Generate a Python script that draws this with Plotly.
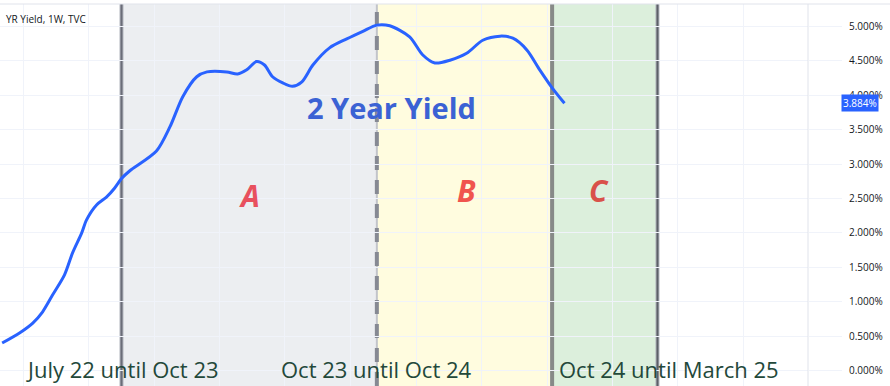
import plotly.graph_objects as go

# ---- data ----
dates = [
    "2021-11-22", "2021-12-25", "2022-01-18", "2022-02-05", "2022-02-24", "2022-03-18",
    "2022-04-02", "2022-04-19", "2022-04-28", "2022-05-17", "2022-06-04", "2022-06-19",
    "2022-07-02", "2022-07-17", "2022-09-05", "2022-09-30", "2022-10-24", "2022-11-19",
    "2022-12-08", "2023-01-14", "2023-02-03", "2023-02-20", "2023-03-10", "2023-03-25",
    "2023-04-09", "2023-04-28", "2023-05-16", "2023-06-02", "2023-06-23", "2023-07-24",
    "2023-08-25", "2023-09-24", "2023-10-20", "2023-11-13", "2023-12-20", "2024-01-13",
    "2024-02-05", "2024-03-04", "2024-04-04", "2024-05-04", "2024-06-05", "2024-06-29",
    "2024-07-25", "2024-08-18", "2024-09-09", "2024-10-03",
]
yields = [
    0.40, 0.55, 0.69, 0.85, 1.10, 1.39,
    1.71, 2.00, 2.19, 2.41, 2.52, 2.65,
    2.79, 2.90, 3.19, 3.54, 3.98, 4.27,
    4.34, 4.34, 4.31, 4.37, 4.49, 4.44,
    4.27, 4.18, 4.13, 4.19, 4.44, 4.69,
    4.82, 4.93, 5.02, 5.01, 4.85, 4.59,
    4.47, 4.51, 4.61, 4.80, 4.86, 4.83,
    4.66, 4.37, 4.12, 3.884,
]
last_value = 3.884

period_bounds = ["2022-07-02", "2023-10-20", "2024-09-10", "2025-03-25"]
period_fills = ["#eceef1", "#fffcdf", "#dcefdc"]
period_letters = ["A", "B", "C"]
letter_x = ["2023-02-25", "2024-04-04", "2024-12-07"]
letter_y = [2.55, 2.62, 2.62]
letter_colors = ["#e8505e", "#f0544e", "#d9514a"]

period_labels = ["July 22 until Oct 23", "Oct 23 until Oct 24", "Oct 24 until March 25"]
period_label_x = ["2022-07-04", "2023-10-20", "2025-04-15"]

y_ticks = [0, 0.5, 1.0, 1.5, 2.0, 2.5, 3.0, 3.5, 4.0, 4.5, 5.0]
y_tick_text = ["0.000%", "0.500%", "1.000%", "1.500%", "2.000%", "2.500%",
               "3.000%", "3.500%", "4.000%", "4.500%", "5.000%"]

fig = go.Figure()

fig.add_trace(go.Scatter(
    x=dates, y=yields, mode="lines",
    line=dict(color="#2962ff", width=3, shape="spline", smoothing=0.8),
    hoverinfo="skip", showlegend=False,
))

shapes = []
for i in range(3):
    shapes.append(dict(type="rect", xref="x", yref="paper",
                       x0=period_bounds[i], x1=period_bounds[i + 1], y0=0, y1=1,
                       fillcolor=period_fills[i], line=dict(width=0), layer="below"))
# boundary lines
shapes.append(dict(type="line", xref="x", yref="paper", x0=period_bounds[0], x1=period_bounds[0],
                   y0=0, y1=1, line=dict(color="#b2b5be", width=4), layer="below"))
shapes.append(dict(type="line", xref="x", yref="paper", x0=period_bounds[0], x1=period_bounds[0],
                   y0=0, y1=1, line=dict(color="#6a6d78", width=2), layer="below"))
shapes.append(dict(type="line", xref="x", yref="paper", x0=period_bounds[1], x1=period_bounds[1],
                   y0=0, y1=1, line=dict(color="#c2c4ca", width=2), layer="below"))
shapes.append(dict(type="line", xref="x", yref="paper", x0=period_bounds[1], x1=period_bounds[1],
                   y0=0, y1=1, line=dict(color="#868993", width=4, dash="14px,10px"), layer="below"))
shapes.append(dict(type="line", xref="x", yref="paper", x0=period_bounds[2], x1=period_bounds[2],
                   y0=0, y1=1, line=dict(color="#878a88", width=4), layer="below"))
shapes.append(dict(type="line", xref="x", yref="paper", x0=period_bounds[3], x1=period_bounds[3],
                   y0=0, y1=1, line=dict(color="#b2b5be", width=4), layer="below"))
shapes.append(dict(type="line", xref="x", yref="paper", x0=period_bounds[3], x1=period_bounds[3],
                   y0=0, y1=1, line=dict(color="#5d6068", width=2), layer="below"))
# frame lines
shapes.append(dict(type="line", xref="paper", yref="paper", x0=0, x1=1.2, y0=1, y1=1,
                   line=dict(color="#e0e3eb", width=1)))
shapes.append(dict(type="line", xref="paper", yref="paper", x0=1, x1=1, y0=0, y1=1,
                   line=dict(color="#e0e3eb", width=1)))

annotations = []
annotations.append(dict(text="YR Yield, 1W, TVC", xref="paper", yref="paper", x=0.005, y=0.985,
                        xanchor="left", yanchor="top", showarrow=False,
                        font=dict(family="Open Sans", size=10, color="#131722")))
annotations.append(dict(text="<b>2 Year Yield</b>", xref="x", yref="y", x="2023-11-17", y=3.83,
                        showarrow=False, font=dict(family="Open Sans", size=29, color="#3b62d4")))
for i in range(3):
    annotations.append(dict(text="<b><i>" + period_letters[i] + "</i></b>", xref="x", yref="y",
                            x=letter_x[i], y=letter_y[i], showarrow=False,
                            font=dict(family="Open Sans", size=30, color=letter_colors[i])))
    annotations.append(dict(text=period_labels[i], xref="x", yref="y",
                            x=period_label_x[i], y=0.02, showarrow=False,
                            font=dict(family="Open Sans", size=22, color="#23483a")))
annotations.append(dict(text="3.884%", xref="paper", yref="y", x=1.0408, y=last_value,
                        xanchor="left", yanchor="middle", showarrow=False, bgcolor="#2962ff",
                        borderpad=1, font=dict(family="Open Sans", size=10, color="#ffffff")))

fig.update_layout(
    width=890, height=386,
    margin=dict(l=0, r=82, t=4, b=0),
    paper_bgcolor="#ffffff", plot_bgcolor="#ffffff",
    shapes=shapes, annotations=annotations,
    xaxis=dict(type="date", range=["2021-11-18", "2025-12-30"], tick0="2022-01-01", dtick="M4",
               showticklabels=False, showgrid=True, gridcolor="#f0f3fa", gridwidth=1,
               zeroline=False, showline=False, ticks=""),
    yaxis=dict(side="right", range=[-0.225, 5.327], tickvals=y_ticks, ticktext=y_tick_text,
               showgrid=True, gridcolor="#f0f3fa", zeroline=False, showline=False,
               ticks="outside", ticklen=33, tickcolor="#f0f3fa", automargin=False,
               ticklabelstandoff=5,
               tickfont=dict(family="Open Sans", size=10, color="#131722")),
    showlegend=False,
)

fig.write_html("out.html", config={"displayModeBar": False},
               post_script="document.body.style.margin='0';document.body.style.overflow='hidden';")
